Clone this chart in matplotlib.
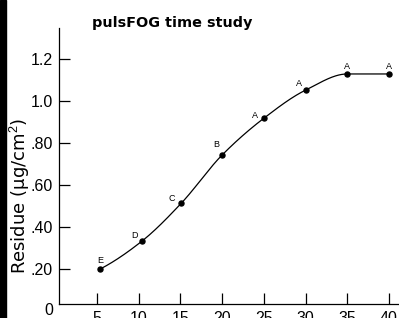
import numpy as np
import matplotlib
matplotlib.use("Agg")
import matplotlib.pyplot as plt
from matplotlib.patches import Rectangle
import matplotlib.transforms as mtransforms

plt.rcParams['font.family'] = ['Liberation Sans', 'DejaVu Sans']
plt.rcParams['mathtext.fontset'] = 'custom'
plt.rcParams['mathtext.rm'] = 'Liberation Sans'

# data
time_x = [5.4, 10.4, 15.1, 20, 25, 30, 35, 40]
residue = [0.200, 0.333, 0.513, 0.743, 0.918, 1.052, 1.129, 1.129]
groups = ['E', 'D', 'C', 'B', 'A', 'A', 'A', 'A']
x_ticks = [5, 10, 15, 20, 25, 30, 35, 40]
y_ticks = [0.2, 0.4, 0.6, 0.8, 1.0, 1.2]
y_ticklabels = ['.20', '.40', '.60', '.80', '1.0', '1.2']
title = 'pulsFOG time study'

# label offsets (pixels)
label_offsets = [(0, 8), (-8, 6), (-10, 5), (-6, 10), (-9, 3), (-7, 7), (0, 7), (0, 7)]


def pchip(x, y, xn):
    x = np.asarray(x, float); y = np.asarray(y, float)
    h = np.diff(x); d = np.diff(y) / h
    n = len(x)
    m = np.zeros(n)
    for k in range(1, n - 1):
        if d[k - 1] * d[k] <= 0:
            m[k] = 0
        else:
            w1 = 2 * h[k] + h[k - 1]; w2 = h[k] + 2 * h[k - 1]
            m[k] = (w1 + w2) / (w1 / d[k - 1] + w2 / d[k])
    m[0] = ((2 * h[0] + h[1]) * d[0] - h[0] * d[1]) / (h[0] + h[1])
    if np.sign(m[0]) != np.sign(d[0]):
        m[0] = 0
    m[-1] = ((2 * h[-1] + h[-2]) * d[-1] - h[-1] * d[-2]) / (h[-1] + h[-2])
    if np.sign(m[-1]) != np.sign(d[-1]):
        m[-1] = 0
    idx = np.clip(np.searchsorted(x, xn) - 1, 0, n - 2)
    t = (xn - x[idx]) / h[idx]
    h00 = 2 * t**3 - 3 * t**2 + 1
    h10 = t**3 - 2 * t**2 + t
    h01 = -2 * t**3 + 3 * t**2
    h11 = t**3 - t**2
    return h00 * y[idx] + h10 * h[idx] * m[idx] + h01 * y[idx + 1] + h11 * h[idx] * m[idx + 1]


fig = plt.figure(figsize=(3.99, 3.18), dpi=100)
ax = fig.add_axes([59 / 399, 14 / 318, 1 - 59 / 399, (304 - 28) / 318])

xs = np.linspace(time_x[0], time_x[-1], 300)
ax.plot(xs, pchip(time_x, residue, xs), color='black', lw=0.9)
ax.plot(time_x, residue, 'o', color='black', ms=3.6)

for xv, yv, g, off in zip(time_x, residue, groups, label_offsets):
    ax.annotate(g, (xv, yv), xytext=off, textcoords='offset pixels',
                ha='center', va='center', fontsize=6.5)

ax.set_xlim(0.445, 41.2)
ax.set_ylim(0.033, 1.348)
ax.set_xticks(x_ticks)
ax.set_xticklabels([str(v) for v in x_ticks])
ax.set_yticks(y_ticks)
ax.set_yticklabels(y_ticklabels)
ax.tick_params(direction='in', length=8, width=0.9, labelsize=11.5, pad=4.5)
ax.tick_params(axis='x', pad=5)
for s in ['top', 'right']:
    ax.spines[s].set_visible(False)
for s in ['left', 'bottom']:
    ax.spines[s].set_linewidth(0.9)

trans = mtransforms.blended_transform_factory(ax.transAxes, ax.transData)
ax.text(-6 / (399 - 59), 0.0, '0', transform=trans, ha='right', va='center',
        fontsize=11.5, clip_on=False)

ax.set_ylabel('Residue (μg/cm$^2$)', fontsize=13, family='DejaVu Sans')
ax.yaxis.label.set_va('center')
ax.yaxis.set_label_coords(-39 / (399 - 59), (304 - 196) / (304 - 28))

fig.text(172 / 399, 1 - 23 / 318, title, ha='center', va='center',
         fontsize=10.4, fontweight='bold', family='DejaVu Sans')

fig.patches.append(Rectangle((0, 0), 6 / 399, 1, transform=fig.transFigure,
                             color='black', zorder=10))

fig.savefig('out.png', dpi=100)
